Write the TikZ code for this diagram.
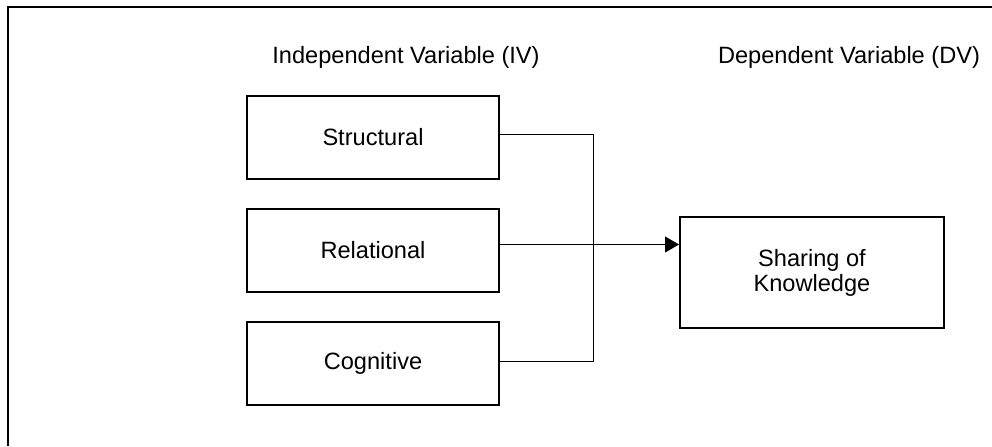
\documentclass[tikz,border=0pt]{standalone}
\usepackage{fontspec}
\setmainfont{Liberation Sans}
\usetikzlibrary{arrows.meta, positioning}

\begin{document}
\begin{tikzpicture}[
      var/.style={rectangle, draw, line width=1pt, minimum width=126pt, minimum height=41.5pt},
      head/.style={anchor=base},
      edge/.style={line width=0.5pt},
      font=\fontsize{11.8}{12.5}\selectfont
    ]
    \useasboundingbox (0,0) rectangle (496pt,-223pt);
    \draw[line width=1pt] (496pt,-3.6pt) -- (3.8pt,-3.6pt) -- (3.8pt,-223pt);
    \node[head] (iv) at (203pt,-31.5pt) {Independent Variable (IV)};
    \node[head] (dv) at (424.5pt,-31.5pt) {Dependent Variable (DV)};
    \node[var] (str) at (186.5pt,-68.75pt) {Structural};
    \node[var, below=14pt of str] (rel) {Relational};
    \node[var, below=14pt of rel] (cog) {Cognitive};
    \node[var, minimum width=132pt, minimum height=55.5pt, align=center] (share) at (406pt,-136.25pt) {Sharing of\\Knowledge};
    \coordinate (bus) at (296.5pt,0);
    \draw[edge] ([yshift=1.5pt]str.east) -- ([yshift=1.5pt]str.east -| bus) |- ([yshift=1pt]cog.east);
    \draw[edge, -{Triangle[length=7pt, width=8pt]}] ([yshift=3pt]rel.east) -- ([yshift=3pt]rel.east -| share.west);
    \end{tikzpicture}
\end{document}
